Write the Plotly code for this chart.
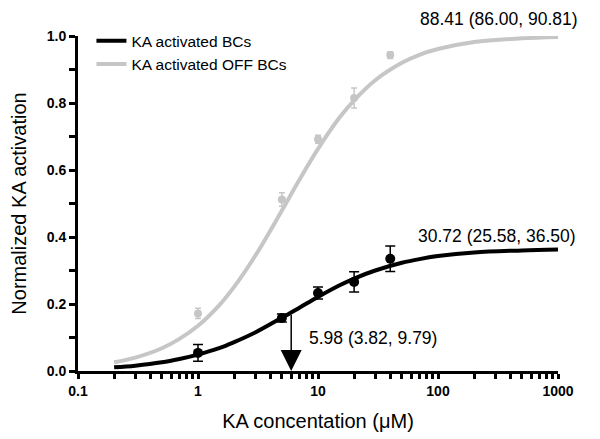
import math
import plotly.graph_objects as go

# Measured points (mean, error)
conc = [1, 5, 10, 20, 40]
bc_mean = [0.054, 0.158, 0.233, 0.266, 0.335]
bc_err = [0.025, 0.012, 0.018, 0.030, 0.038]
off_mean = [0.172, 0.512, 0.692, 0.815, 0.943]
off_err = [0.015, 0.020, 0.012, 0.030, 0.010]

# Fitted curves
curve_x = [0.2, 0.3, 0.5, 0.7, 1, 1.5, 2, 3, 5, 7, 10, 15, 20, 30, 50, 70, 100, 200, 500, 1000]
bc_curve = [0.011, 0.016, 0.026, 0.036, 0.049, 0.068, 0.086, 0.115, 0.159, 0.189, 0.221,
            0.255, 0.276, 0.300, 0.323, 0.334, 0.343, 0.354, 0.360, 0.363]
off_curve = [0.026, 0.040, 0.068, 0.096, 0.135, 0.196, 0.251, 0.344, 0.479, 0.571, 0.663,
             0.755, 0.808, 0.868, 0.920, 0.944, 0.961, 0.982, 0.993, 0.997]

ec50_x = 5.98
ec50_y = 0.172
ec50_label = "5.98 (3.82, 9.79)"
bc_top_label = "30.72 (25.58, 36.50)"
off_top_label = "88.41 (86.00, 90.81)"

x_tick_vals = [0.1, 0.2, 0.3, 0.4, 0.5, 0.6, 0.7, 0.8, 0.9,
               1, 2, 3, 4, 5, 6, 7, 8, 9,
               10, 20, 30, 40, 50, 60, 70, 80, 90,
               100, 200, 300, 400, 500, 600, 700, 800, 900, 1000]
x_major = {0.1: "0.1", 1: "1", 10: "10", 100: "100", 1000: "1000"}
x_tick_text = [x_major.get(v, "") for v in x_tick_vals]
y_tick_vals = [0.0, 0.1, 0.2, 0.3, 0.4, 0.5, 0.6, 0.7, 0.8, 0.9, 1.0]
y_major = {0.0: "0.0", 0.2: "0.2", 0.4: "0.4", 0.6: "0.6", 0.8: "0.8", 1.0: "1.0"}
y_tick_text = [y_major.get(v, "") for v in y_tick_vals]

BLACK = "#000000"
GRAY = "#c6c6c6"
FONT = "Liberation Sans, Arial, sans-serif"

fig = go.Figure()

fig.add_trace(go.Scatter(x=curve_x, y=bc_curve, mode="lines", line=dict(color=BLACK, width=4, shape="spline"),
                         name="KA activated BCs"))
fig.add_trace(go.Scatter(x=curve_x, y=off_curve, mode="lines", line=dict(color=GRAY, width=4, shape="spline"),
                         name="KA activated OFF BCs"))
fig.add_trace(go.Scatter(x=conc, y=off_mean, mode="markers", marker=dict(color=GRAY, size=8),
                         error_y=dict(type="data", array=off_err, color=GRAY, thickness=1.5, width=3),
                         showlegend=False))
fig.add_trace(go.Scatter(x=conc, y=bc_mean, mode="markers", marker=dict(color=BLACK, size=10),
                         error_y=dict(type="data", array=bc_err, color=BLACK, thickness=1.5, width=5),
                         showlegend=False))

ec50_logx = math.log10(ec50_x)
fig.add_annotation(x=ec50_logx, y=0.0, ax=ec50_logx, ay=ec50_y, xref="x", yref="y", axref="x", ayref="y",
                   text="", showarrow=True, arrowhead=2, arrowsize=2.8, arrowwidth=1.5, arrowcolor=BLACK)
fig.add_annotation(x=0.477, y=0.0985, xref="paper", yref="paper", text=ec50_label, showarrow=False,
                   xanchor="left", yanchor="middle", font=dict(size=17.5, color=BLACK, family=FONT))
fig.add_annotation(x=1.0417, y=0.403, xref="paper", yref="paper", text=bc_top_label, showarrow=False,
                   xanchor="right", yanchor="middle", font=dict(size=17.5, color=BLACK, family=FONT))
fig.add_annotation(x=1.046, y=1.05, xref="paper", yref="paper", text=off_top_label, showarrow=False,
                   xanchor="right", yanchor="middle", font=dict(size=17.5, color=BLACK, family=FONT))

fig.update_layout(
    width=600, height=439,
    margin=dict(l=78, r=42, t=36, b=68),
    plot_bgcolor="white", paper_bgcolor="white",
    font=dict(family=FONT, color=BLACK),
    hovermode=False,
    legend=dict(x=0.028, y=1.035, xanchor="left", yanchor="top", bgcolor="rgba(0,0,0,0)",
                font=dict(size=15.5, family=FONT), itemwidth=30, tracegroupgap=0),
)
fig.update_xaxes(type="log", range=[-1, 3], showgrid=False, zeroline=False, automargin=False,
                 showline=True, linecolor=BLACK, linewidth=3,
                 tickmode="array", tickvals=x_tick_vals, ticktext=x_tick_text,
                 ticks="outside", ticklen=5, tickwidth=3, tickcolor=BLACK,
                 tickfont=dict(size=14, family="Liberation Sans, Arial", weight="bold"),
                 title=dict(text="KA concentation (μM)", font=dict(size=20, family=FONT), standoff=17))
fig.update_yaxes(range=[0, 1.0], showgrid=False, zeroline=False, automargin=False,
                 showline=True, linecolor=BLACK, linewidth=3,
                 tickmode="array", tickvals=y_tick_vals, ticktext=y_tick_text,
                 ticks="outside", ticklen=6, tickwidth=3, tickcolor=BLACK,
                 tickfont=dict(size=14, family="Liberation Sans, Arial", weight="bold"),
                 title=dict(text="Normalized KA activation", font=dict(size=20, family=FONT), standoff=15))

fig.write_html("out.html", config={"displayModeBar": False},
               post_script="document.body.style.margin='0';")
